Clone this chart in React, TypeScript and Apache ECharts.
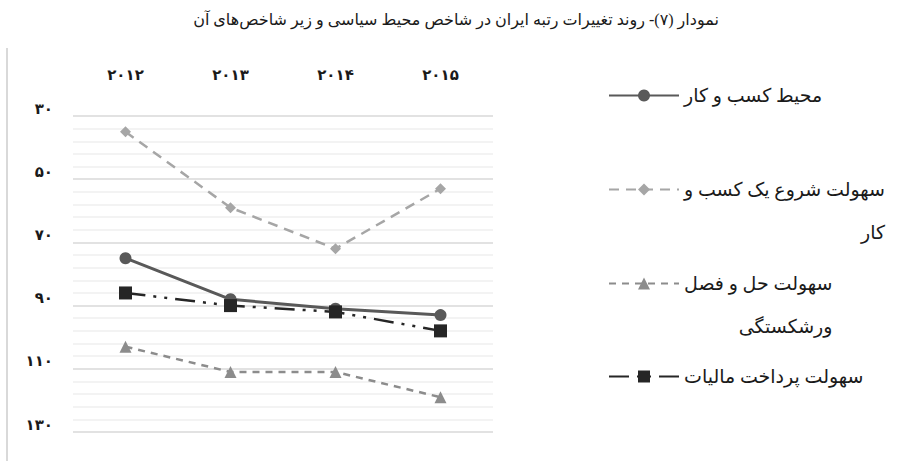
import React, { useEffect, useRef } from "react";
import * as echarts from "echarts";

// ---- data ----
const years = ["۲۰۱۲", "۲۰۱۳", "۲۰۱۴", "۲۰۱۵"];
const yTickValues = [30, 50, 70, 90, 110, 130];
const yTickLabels = ["۳۰", "۵۰", "۷۰", "۹۰", "۱۱۰", "۱۳۰"];

const seriesNames = [
  "محیط کسب و کار",
  "سهولت شروع یک کسب و کار",
  "سهولت حل و فصل ورشکستگی",
  "سهولت پرداخت مالیات",
];
// legend labels as wrapped in the reference
const legendLines = [
  ["محیط کسب و کار"],
  ["سهولت شروع یک کسب و", "کار"],
  ["سهولت حل و فصل", "ورشکستگی"],
  ["سهولت پرداخت مالیات"],
];

const businessEnvironment = [75, 88, 91, 93];
const startingBusiness = [35, 59, 72, 53];
const resolvingInsolvency = [103, 111, 111, 119];
const payingTaxes = [86, 90, 92, 98];

const titleText =
  "نمودار (۷)- روند تغییرات رتبه ایران در شاخص محیط سیاسی و زیر شاخص‌های آن";

// ---- styles ----
const FONT = "'Liberation Serif', 'DejaVu Serif', 'DejaVu Sans', serif";
const TEXT_COLOR = "#1a1a1a";

// The reference shows the words laid out left to right; the renderer lays
// a right-to-left line out from the right, so feed the word tokens reversed.
const wordTokens = (s: string, tag: string) =>
  s
    .split(" ")
    .reverse()
    .map((w) =>
      (w.match(/-|[^-]+/g) || [w])
        .reverse()
        .map((p) => `{${tag}|${p}}`)
        .join("")
    )
    .join(" ");

export default function App() {
  const ref = useRef<HTMLDivElement>(null);

  useEffect(() => {
    if (!ref.current) return;
    const chart = echarts.init(ref.current, undefined, { renderer: "svg" });

    const legendFont = {
      fontFamily: FONT,
      fontSize: 19,
      color: TEXT_COLOR,
      lineHeight: 43,
    };
    const legendRich = {
      w: { ...legendFont },
      r: { ...legendFont, align: "right" as const },
    };

    const legendFormatter = (name: string) => {
      const idx = seriesNames.indexOf(name);
      const lines = legendLines[idx];
      if (lines.length === 1) return wordTokens(lines[0], "w");
      return ["{w| }", wordTokens(lines[0], "w"), wordTokens(lines[1], "r")].join("\n");
    };

    const legendTops = [74, 125, 219, 355];
    const titleFont = { fontFamily: FONT, fontSize: 16, color: TEXT_COLOR };

    const option: any = {
      animation: false,
      backgroundColor: "#ffffff",
      title: {
        text: wordTokens(titleText, "t"),
        left: "center",
        top: 6,
        textStyle: {
          ...titleFont,
          fontWeight: "normal",
          rich: { t: { ...titleFont } },
        },
      },
      legend: seriesNames.map((n, i) => ({
        data: [n],
        left: 608,
        top: legendTops[i],
        padding: 0,
        itemWidth: 70,
        itemHeight: 15,
        selectedMode: false,
        formatter: legendFormatter,
        textStyle: { ...legendFont, rich: legendRich },
      })),
      grid: { left: 73, right: 419, top: 116, bottom: 29 },
      xAxis: {
        type: "category",
        position: "top",
        data: years,
        boundaryGap: true,
        axisLine: { show: false },
        axisTick: { show: false },
        axisLabel: {
          margin: 34,
          fontFamily: FONT,
          fontSize: 15,
          fontWeight: "bold",
          color: TEXT_COLOR,
        },
        splitLine: { show: false },
      },
      yAxis: {
        type: "value",
        inverse: true,
        min: 30,
        max: 130,
        interval: 20,
        axisLine: { show: false },
        axisTick: { show: false },
        minorTick: { show: false, splitNumber: 5 },
        axisLabel: {
          margin: 20,
          verticalAlign: "bottom",
          fontFamily: FONT,
          fontSize: 15,
          fontWeight: "bold",
          color: TEXT_COLOR,
          formatter: (v: number) => {
            const i = yTickValues.indexOf(v);
            return i >= 0 ? yTickLabels[i] : "";
          },
        },
        splitLine: { show: true, lineStyle: { color: "#d9d9d9", width: 1.5 } },
        minorSplitLine: { show: true, lineStyle: { color: "#efefef", width: 1.5 } },
      },
      series: [
        {
          name: seriesNames[0],
          type: "line",
          data: businessEnvironment,
          symbol: "circle",
          symbolSize: 12,
          itemStyle: { color: "#595959" },
          lineStyle: { color: "#595959", width: 3, type: "solid" },
          z: 4,
        },
        {
          name: seriesNames[1],
          type: "line",
          data: startingBusiness,
          symbol: "diamond",
          symbolSize: 11,
          itemStyle: { color: "#a6a6a6" },
          lineStyle: { color: "#a6a6a6", width: 2.5, type: [10, 7] },
          z: 3,
        },
        {
          name: seriesNames[2],
          type: "line",
          data: resolvingInsolvency,
          symbol: "triangle",
          symbolSize: 12,
          itemStyle: { color: "#8c8c8c" },
          lineStyle: { color: "#8c8c8c", width: 2.5, type: [7, 6] },
          z: 3,
        },
        {
          name: seriesNames[3],
          type: "line",
          data: payingTaxes,
          symbol: "rect",
          symbolSize: 13,
          itemStyle: { color: "#262626" },
          lineStyle: { color: "#262626", width: 2.5, type: [20, 8, 3, 8, 3, 8] },
          z: 5,
        },
      ],
      graphic: [
        {
          type: "line",
          shape: { x1: 7, y1: 48, x2: 7, y2: 461 },
          style: { stroke: "#d9d9d9", lineWidth: 2 },
          silent: true,
        },
      ],
    };

    chart.setOption(option);
    return () => chart.dispose();
  }, []);

  return (
    <div
      ref={ref}
      style={{ position: "fixed", left: 0, top: 0, width: 912, height: 461 }}
    />
  );
}
